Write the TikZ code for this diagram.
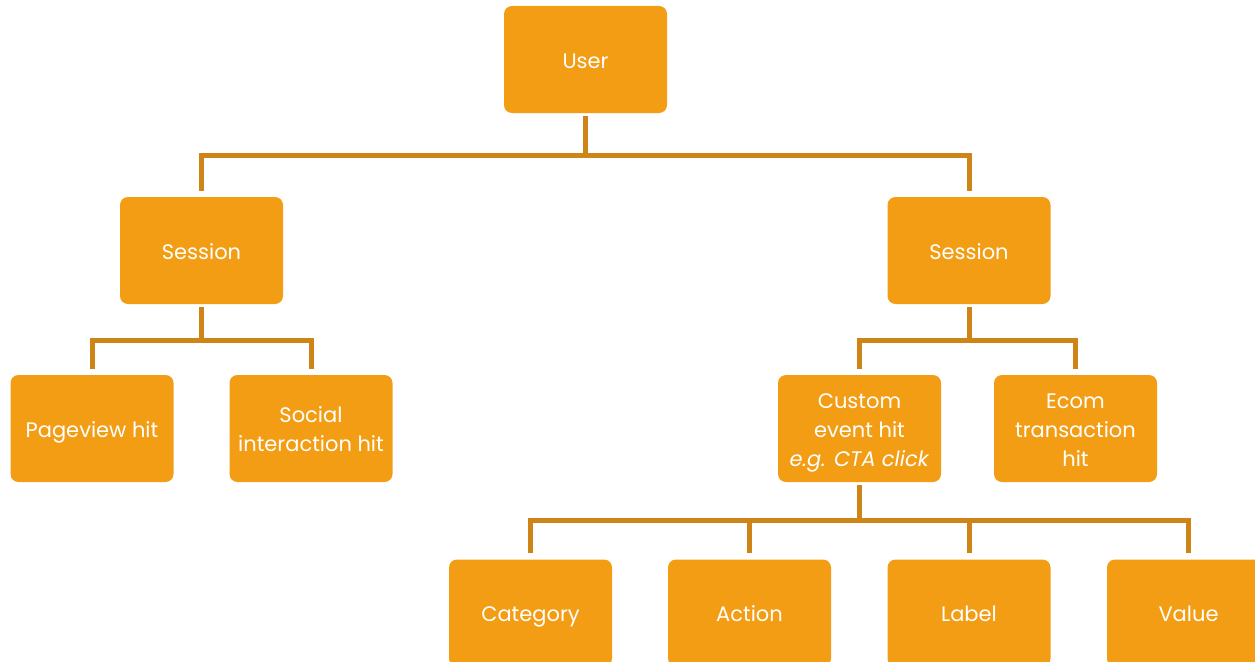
\documentclass[tikz,border=0pt]{standalone}
\usepackage{fontspec}
\setmainfont{Poppins}
\definecolor{boxfill}{RGB}{243,157,20}
\definecolor{linecol}{RGB}{206,132,22}
\newcommand\ls{\rule[-6pt]{0pt}{29pt}}
\begin{document}
\begin{tikzpicture}[x=1pt,y=-1pt,
  box/.style={fill=boxfill,rounded corners=8pt,minimum width=163pt,minimum height=107pt,
    text=white,align=center,font=\fontsize{21}{29}\selectfont,inner sep=0pt},
  conn/.style={draw=linecol,line width=5pt,shorten <=3pt,shorten >=6pt}]
\useasboundingbox (0,0) rectangle (1255,661);
\clip (0,0) rectangle (1255,661);
\node[box] (user) at (585.5,59.5) {\ls User};
\node[box] (s1) at (201.5,250.5) {\ls Session};
\node[box] (s2) at (969,250.5) {\ls Session};
\node[box] (pv) at (92,428.5) {\ls Pageview hit};
\node[box] (si) at (311,428.5) {\ls Social\\\ls interaction hit};
\node[box] (ce) at (859.5,428.5) {\ls Custom\\\ls event hit\\\ls\textit{e.g. CTA click}};
\node[box] (ec) at (1075.5,428.5) {\ls Ecom\\\ls transaction\\\ls hit};
\node[box] (cat) at (530.5,613) {\ls Category};
\node[box] (act) at (749.5,613) {\ls Action};
\node[box] (lab) at (969,613) {\ls Label};
\node[box] (val) at (1188.5,613) {\ls Value};
\coordinate (b1) at (0,155);
\coordinate (b2) at (0,340);
\coordinate (b3) at (0,520);
\foreach \c in {s1,s2}{\draw[conn] (user.south) -- (user.south |- b1) -| (\c.north);}
\foreach \c in {pv,si}{\draw[conn] (s1.south) -- (s1.south |- b2) -| (\c.north);}
\foreach \c in {ce,ec}{\draw[conn] (s2.south) -- (s2.south |- b2) -| (\c.north);}
\foreach \c in {cat,act,lab,val}{\draw[conn] (ce.south) -- (ce.south |- b3) -| (\c.north);}
\end{tikzpicture}
\end{document}
